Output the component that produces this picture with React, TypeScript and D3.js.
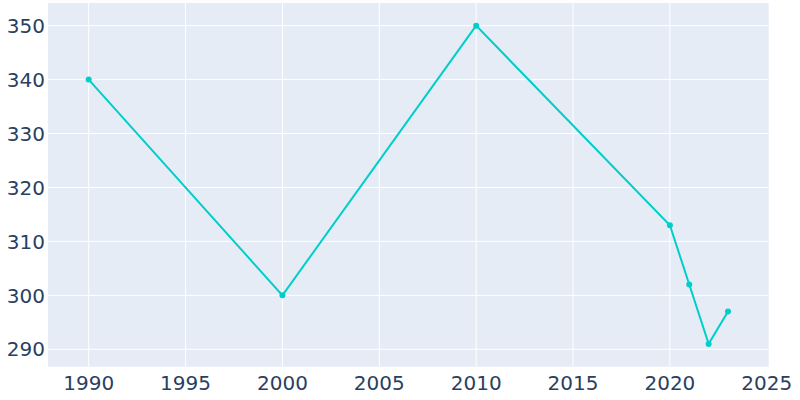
import React from "react";
import * as d3 from "d3";

const years = [1990, 2000, 2010, 2020, 2021, 2022, 2023];
const population = [340, 300, 350, 313, 302, 291, 297];
const xTicks = [1990, 1995, 2000, 2005, 2010, 2015, 2020, 2025];
const yTicks = [290, 300, 310, 320, 330, 340, 350];

export default function App() {
  const W = 800, H = 400;
  const left = 48, right = 768.7, top = 3, bottom = 366.7;
  const x = d3.scaleLinear().domain([1987.9, 2025.1]).range([left, right]);
  const y = d3.scaleLinear().domain([286.77, 354.2]).range([bottom, top]);
  const pts = years.map((yr, i) => [yr, population[i]] as [number, number]);
  const line = d3.line<[number, number]>().x(d => x(d[0])).y(d => y(d[1]));
  const font = "'DejaVu Sans', Verdana, sans-serif";
  return (
    <svg width={W} height={H} style={{ position: "absolute", left: 0, top: 0 }}>
      <rect x={left} y={top} width={right - left} height={bottom - top} fill="#e5ecf6" />
      {xTicks.filter(t => x(t) < right - 5).map(t => (
        <line key={"gx" + t} x1={x(t)} x2={x(t)} y1={top} y2={bottom} stroke="#fff" strokeWidth={1} />
      ))}
      {yTicks.map(t => (
        <line key={"gy" + t} x1={left} x2={right} y1={y(t)} y2={y(t)} stroke="#fff" strokeWidth={1} />
      ))}
      <path d={line(pts) || ""} fill="none" stroke="#00cec9" strokeWidth={2} />
      {pts.map((p, i) => (
        <circle key={i} cx={x(p[0])} cy={y(p[1])} r={3} fill="#00cec9" />
      ))}
      {xTicks.map(t => (
        <text key={"tx" + t} x={x(t)} y={390} textAnchor="middle" fontFamily={font} fontSize={20} fill="#2a3f5f">{t}</text>
      ))}
      {yTicks.map(t => (
        <text key={"ty" + t} x={45} y={y(t)} dy="0.36em" textAnchor="end" fontFamily={font} fontSize={20} fill="#2a3f5f">{t}</text>
      ))}
    </svg>
  );
}
